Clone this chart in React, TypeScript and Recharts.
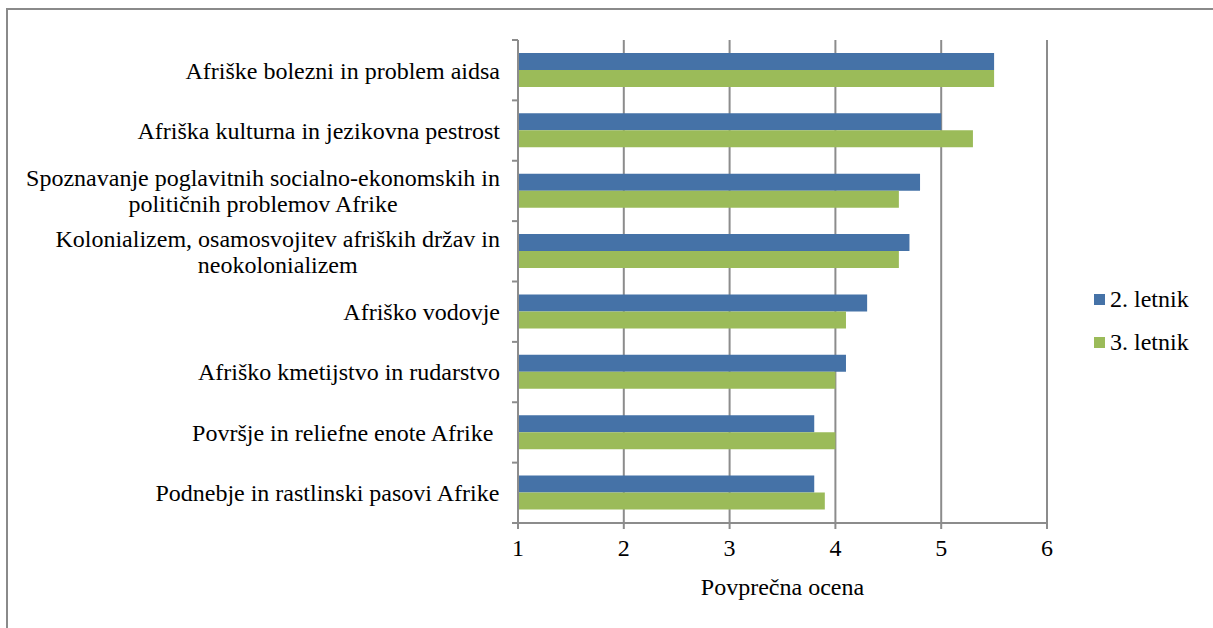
import React from 'react';
import { BarChart, Bar, XAxis, YAxis, CartesianGrid } from 'recharts';

const categories: string[] = [
  'Afriške bolezni in problem aidsa',
  'Afriška kulturna in jezikovna pestrost',
  'Spoznavanje poglavitnih socialno-ekonomskih in\npolitičnih problemov Afrike',
  'Kolonializem, osamosvojitev afriških držav in\nneokolonializem',
  'Afriško vodovje',
  'Afriško kmetijstvo in rudarstvo',
  'Površje in reliefne enote Afrike ',
  'Podnebje in rastlinski pasovi Afrike',
];
const letnik2: number[] = [5.5, 5.0, 4.8, 4.7, 4.3, 4.1, 3.8, 3.8];
const letnik3: number[] = [5.5, 5.3, 4.6, 4.6, 4.1, 4.0, 4.0, 3.9];
const xTicks: number[] = [1, 2, 3, 4, 5, 6];
const seriesNames: string[] = ['2. letnik', '3. letnik'];
const seriesColors: string[] = ['#4572A7', '#9BBB59'];
const xLabel = 'Povprečna ocena';

const data = categories.map((c, i) => ({ name: c, l2: letnik2[i], l3: letnik3[i] }));

const FONT = '"Liberation Serif", "Times New Roman", serif';
const FS = 24;
const AXIS = '#8c8c8c';

let ctx: CanvasRenderingContext2D | null = null;
function measure(s: string): number {
  try {
    if (!ctx) {
      const c = document.createElement('canvas');
      ctx = c.getContext('2d');
    }
    if (!ctx) return s.length * FS * 0.45;
    ctx.font = `${FS}px "Liberation Serif"`;
    return ctx.measureText(s).width;
  } catch (e) {
    return s.length * FS * 0.45;
  }
}

const CatTick = (props: any) => {
  const { x, y, payload, index } = props;
  const lines: string[] = String(payload.value).split('\n');
  const widths = lines.map(measure);
  const maxW = Math.max(...widths);
  const cx = x - maxW / 2;
  const lh = 26;
  const y0 = y - ((lines.length - 1) * lh) / 2;
  const off = payload.offset || 0;
  const last = index === categories.length - 1;
  return (
    <g>
      <line x1={x + 12} x2={x + 18} y1={y - off} y2={y - off} stroke={AXIS} strokeWidth={2} />
      {last && <line x1={x + 12} x2={x + 18} y1={y + off} y2={y + off} stroke={AXIS} strokeWidth={2} />}
      {lines.map((ln, i) => (
        <text
          key={i}
          x={cx}
          y={y0 + i * lh}
          dy="0.35em"
          textAnchor="middle"
          style={{ whiteSpace: 'pre', fontFamily: FONT, fontSize: FS, fill: '#000' }}
        >
          {ln}
        </text>
      ))}
    </g>
  );
};

export default function App() {
  return (
    <div style={{ position: 'fixed', left: 0, top: 0, width: 1213, height: 628, overflow: 'hidden', background: '#fff', fontFamily: FONT }}>
      <div
        style={{
          position: 'absolute',
          left: 6,
          top: 8,
          width: 1212,
          height: 630,
          border: '2px solid #8a8a8a',
          boxSizing: 'border-box',
        }}
      />
      <div style={{ position: 'absolute', left: 0, top: 0 }}>
        <BarChart
          width={1213}
          height={628}
          data={data}
          layout="vertical"
          margin={{ top: 40, right: 166, bottom: 0, left: 0 }}
          barCategoryGap="21.5%"
          barGap={0}
          style={{ fontFamily: FONT }}
        >
          <CartesianGrid horizontal={false} vertical={true} stroke={AXIS} strokeWidth={2} />
          <XAxis
            type="number"
            domain={[1, 6]}
            ticks={xTicks}
            allowDataOverflow
            height={105}
            axisLine={{ stroke: AXIS, strokeWidth: 2 }}
            tickLine={{ stroke: AXIS, strokeWidth: 2 }}
            tickSize={6}
            tickMargin={10}
            tick={{ style: { fontFamily: FONT }, fontSize: FS, fill: '#000' }}
            label={{ value: xLabel, position: 'insideBottom', offset: 33, style: { fontFamily: FONT }, fontSize: FS, fill: '#000' }}
          />
          <YAxis
            type="category"
            dataKey="name"
            width={518}
            interval={0}
            axisLine={{ stroke: AXIS, strokeWidth: 2 }}
            tickLine={false}
            tickSize={0}
            tickMargin={18}
            tick={<CatTick />}
          />
          <Bar dataKey="l2" name={seriesNames[0]} fill={seriesColors[0]} isAnimationActive={false} />
          <Bar dataKey="l3" name={seriesNames[1]} fill={seriesColors[1]} isAnimationActive={false} />
        </BarChart>
      </div>
      {seriesNames.map((n, i) => (
        <div
          key={n}
          style={{ position: 'absolute', left: 1094, top: 284 + i * 43, height: 30, display: 'flex', alignItems: 'center' }}
        >
          <div style={{ width: 11, height: 11, background: seriesColors[i], marginRight: 5 }} />
          <span style={{ fontFamily: FONT, fontSize: FS, color: '#000', lineHeight: '30px' }}>{n}</span>
        </div>
      ))}
    </div>
  );
}
